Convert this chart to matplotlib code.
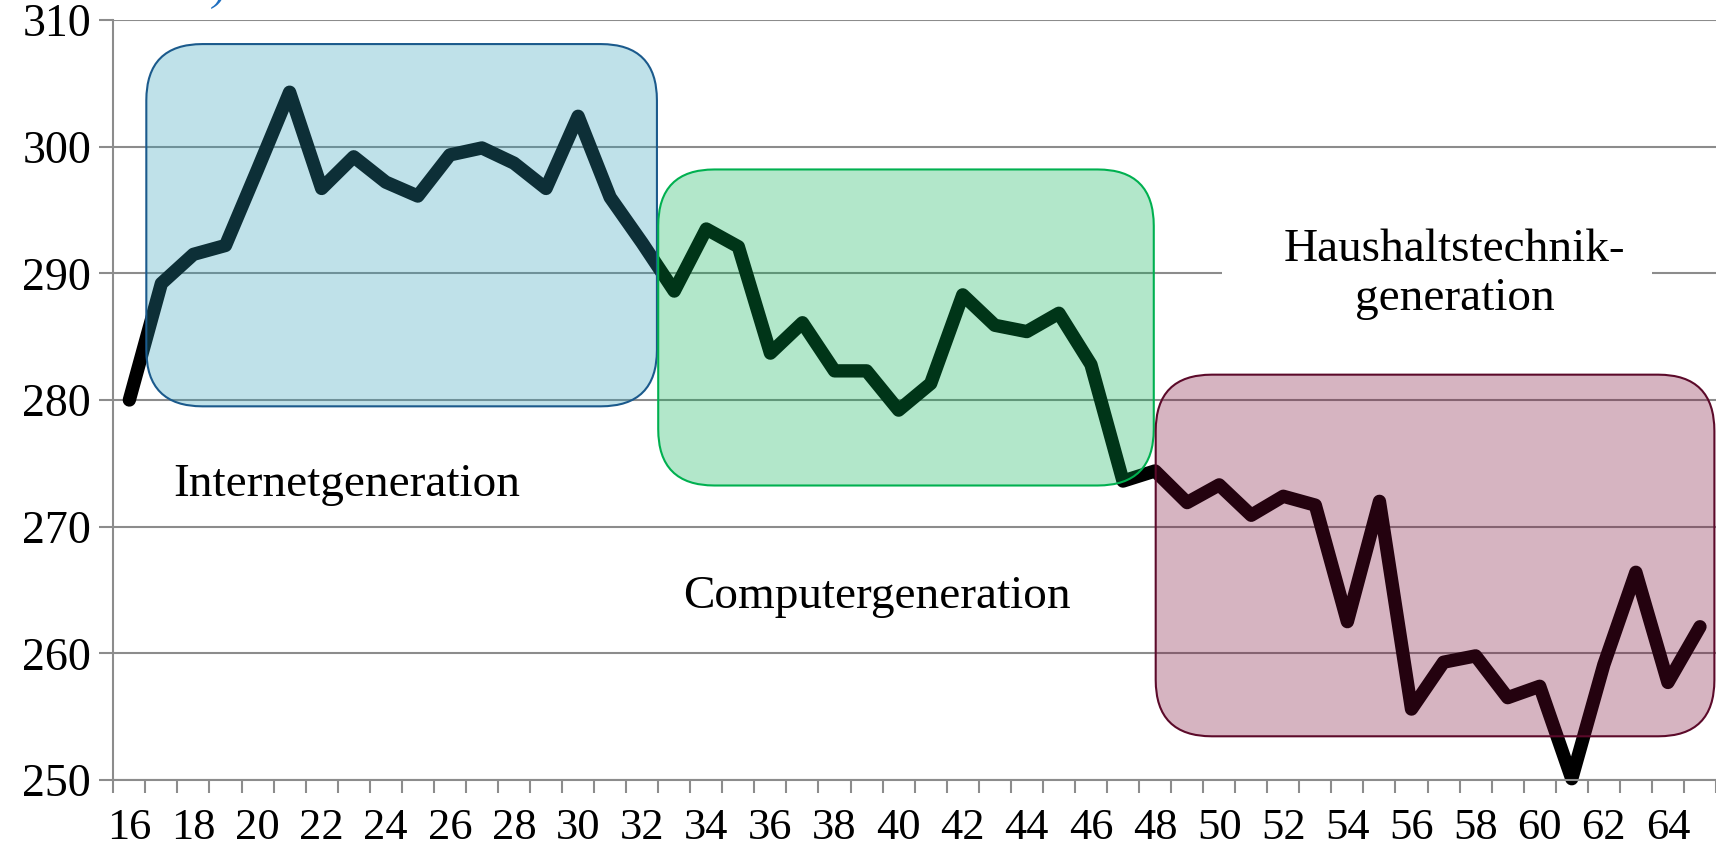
import matplotlib

matplotlib.use("Agg")
import matplotlib.pyplot as plt
from matplotlib.patches import FancyBboxPatch, Rectangle

plt.rcParams["font.family"] = ["Liberation Serif", "DejaVu Serif"]

# age (years) and score
AGES = list(range(16, 66))
SCORES = [
    280.0, 289.2, 291.5, 292.2, 298.2, 304.3, 296.7, 299.2, 297.2, 296.1,
    299.35, 299.9, 298.7, 296.7, 302.4, 296.0, 292.4, 288.6, 293.5, 292.1,
    283.7, 286.1, 282.3, 282.3, 279.2, 281.3, 288.3, 285.9, 285.4, 286.85,
    282.8, 273.6, 274.4, 271.9, 273.3, 270.9, 272.4, 271.7, 262.5, 272.0,
    255.6, 259.3, 259.8, 256.5, 257.4, 250.1, 259.1, 266.4, 257.7, 262.1,
]

# generation boxes
GROUPS = ["Internetgeneration", "Computergeneration", "Haushaltstechnik-\ngeneration"]
BOX_X = [(16.53, 32.46), (32.5, 47.96), (48.02, 65.45)]
BOX_Y = [(279.5, 308.1), (273.25, 298.2), (253.45, 282.0)]
BOX_FACE = ["#2d9eb9", "#00b050", "#780733"]
BOX_EDGE = ["#1b5a8c", "#00b050", "#5c0a2a"]
LABEL_POS = [(22.78, 273.3), (39.33, 264.5), (57.35, 289.9)]

X_MIN, X_MAX = 15.5, 65.26
Y_MIN, Y_MAX = 250, 310
GRID = "#8c8c8c"

fig = plt.figure(figsize=(17.16, 8.52), dpi=100)
ax = fig.add_axes([113.3 / 1716, 1 - 780 / 852, 1 - 113.3 / 1716, 760 / 852])
ax.set_xlim(X_MIN, X_MAX)
ax.set_ylim(Y_MIN, Y_MAX)

for s in ("top", "right"):
    ax.spines[s].set_visible(False)
for s in ("left", "bottom"):
    ax.spines[s].set_color(GRID)
    ax.spines[s].set_linewidth(1.5)

ax.set_yticks(range(250, 311, 10))
ax.yaxis.grid(True, color=GRID, linewidth=1.5, zorder=0)
ax.set_axisbelow(True)
ax.tick_params(axis="y", length=10, width=1.5, color=GRID, pad=6, labelsize=33)

ax.set_xticks([a for a in AGES if a % 2 == 0])
ax.set_xticks([a - 0.5 for a in AGES] + [AGES[-1] + 0.5], minor=True)
ax.tick_params(axis="x", which="major", length=0, pad=20, labelsize=32)
ax.tick_params(axis="x", which="minor", length=9, width=1.5, color=GRID)

ax.plot(AGES, SCORES, color="black", lw=9.6, solid_joinstyle="round",
        solid_capstyle="round", zorder=2, clip_on=False)

# pixel aspect of the axes, so the round corners look circular
bbox = ax.get_position()
w_px = bbox.width * 1716
h_px = bbox.height * 852
aspect = ((Y_MAX - Y_MIN) / h_px) / ((X_MAX - X_MIN) / w_px)

for (x0, x1), (y0, y1), fc, ec in zip(BOX_X, BOX_Y, BOX_FACE, BOX_EDGE):
    ax.add_patch(FancyBboxPatch(
        (x0, y0), x1 - x0, y1 - y0,
        boxstyle="round,pad=0,rounding_size=1.75", mutation_aspect=aspect,
        facecolor=fc, alpha=0.3, edgecolor="none", zorder=3, clip_on=False,
    ))
    ax.add_patch(FancyBboxPatch(
        (x0, y0), x1 - x0, y1 - y0,
        boxstyle="round,pad=0,rounding_size=1.75", mutation_aspect=aspect,
        facecolor="none", edgecolor=ec, linewidth=1.5, zorder=3, clip_on=False,
    ))

# white text frame behind the third label
ax.add_patch(Rectangle((50.1, 284.5), 13.4, 11.5, facecolor="white",
                       edgecolor="none", zorder=1.5))

for label, (lx, ly) in zip(GROUPS, LABEL_POS):
    ax.text(lx, ly, label, ha="center", va="center", fontsize=34,
            linespacing=1.2, zorder=4)

# tail of a cut-off title above the chart
fig.text(220 / 1716, 1.0, ")", color="#1f6fc0", fontsize=30, style="italic",
         ha="center", va="baseline")

fig.savefig("out.png", dpi=100, facecolor="white")
